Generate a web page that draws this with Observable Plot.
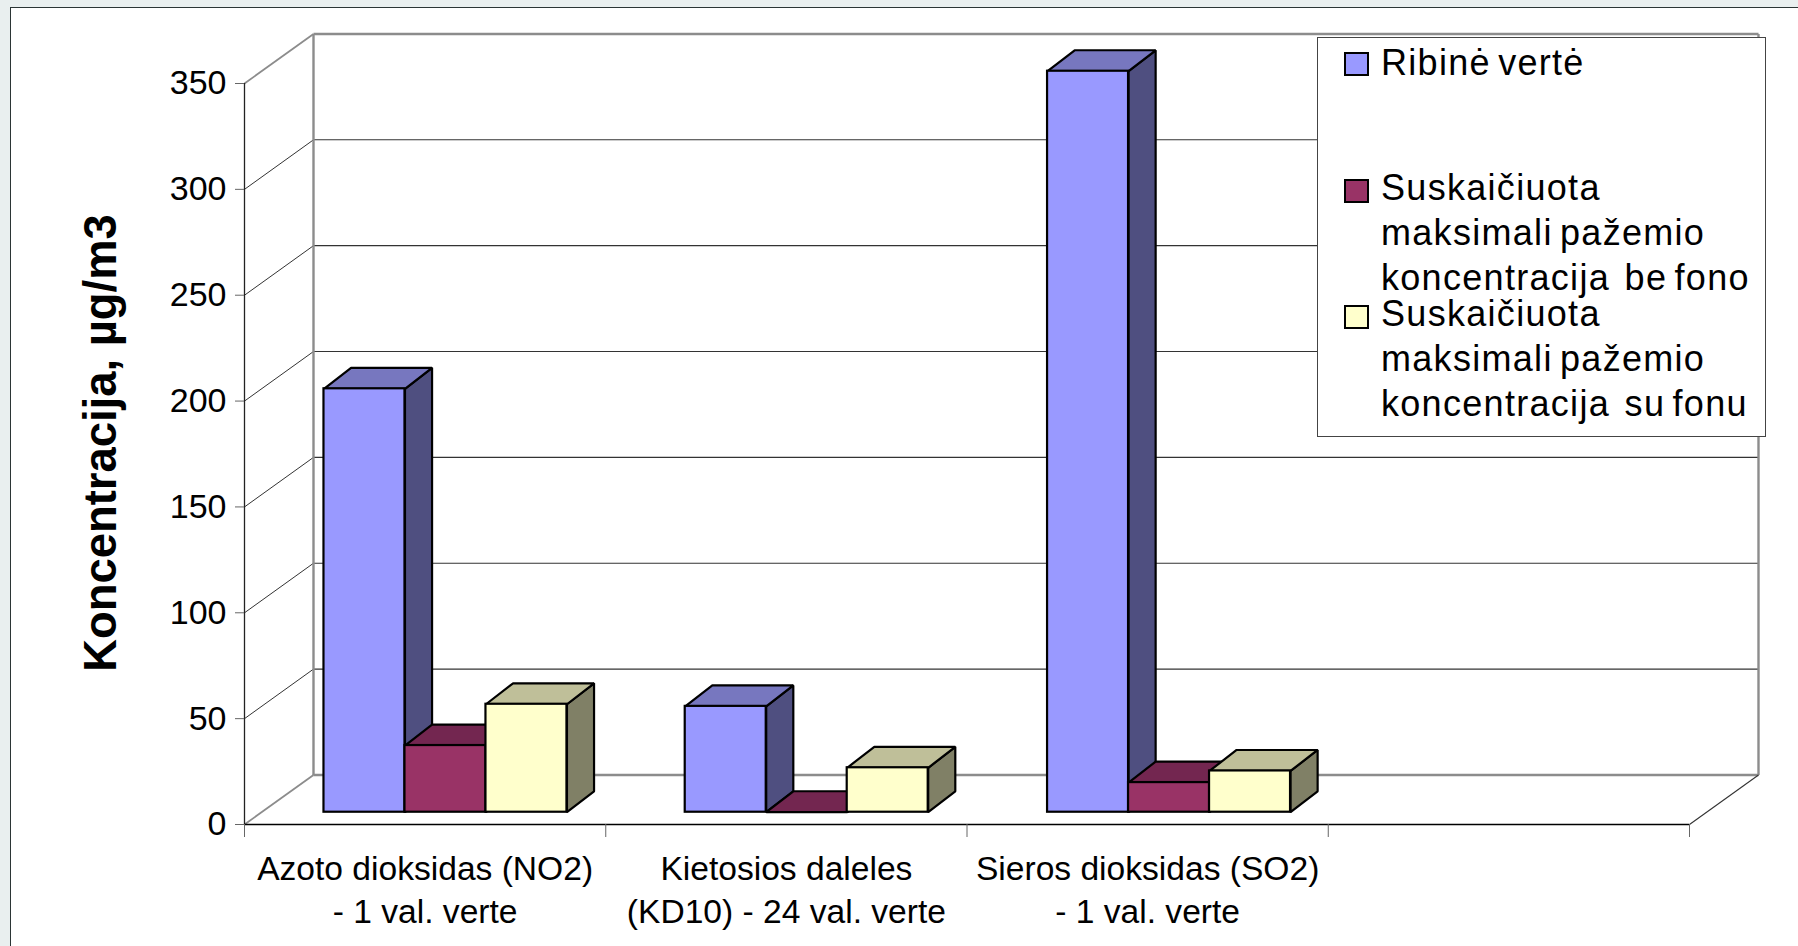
<!DOCTYPE html>
<html><head><meta charset="utf-8">
<script src="https://cdn.jsdelivr.net/npm/d3@7"></script>
<script src="https://cdn.jsdelivr.net/npm/@observablehq/plot@0.6"></script>
<style>
html,body{margin:0;padding:0;width:1798px;height:946px;overflow:hidden;background:#e9efef;font-family:"Liberation Sans",Arial,sans-serif}
#panel{position:absolute;left:9.5px;top:6.5px;width:1800px;height:950px;background:#fff;border:1.5px solid #2b3535}
#chart{position:absolute;left:0;top:0}
#legend{position:absolute;left:1317px;top:37px;width:447px;height:398px;background:#fff;border:1.3px solid #444;font-size:36px;letter-spacing:1.3px;word-spacing:-4px;color:#000}
#legend .t{position:absolute;left:63px;white-space:pre;line-height:40px}
#legend .s{position:absolute;left:26px;width:21px;height:20px;border:2px solid #000}
</style></head><body>
<div id="panel"></div><div id="chart"></div><div id="legend"></div>
<script>
const categories = ["Azoto dioksidas (NO2)\n- 1 val. verte", "Kietosios daleles\n(KD10) - 24 val. verte", "Sieros dioksidas (SO2)\n- 1 val. verte"];
const ribineVerte = [200, 50, 350];
const beFono = [31.5, 0, 14];
const suFono = [51, 21, 19.5];
const yTicks = [0, 50, 100, 150, 200, 250, 300, 350];
const xTicks = [0, 1, 2, 3, 4];
const seriesNames = ["Ribinė vertė", "Suskaičiuota\nmaksimali pažemio\nkoncentracija  be fono", "Suskaičiuota\nmaksimali pažemio\nkoncentracija  su fonu"];
const frontColors = ["#9999ff", "#993366", "#ffffcc"];
const topColors = ["#7777bf", "#732650", "#bfbf99"];
const sideColors = ["#4f4f80", "#4d1a33", "#808066"];

// oblique projection, in scale units
const wallDx = 0.191, wallDy = 23.4;      // depth of the floor
const barDx = 0.075, barDy = 9.9;         // depth of one bar
const barW = 0.2242;                      // width of one bar
const barStarts = [0.22, 0.22, 0.223];    // first bar inside each category
const barBase = 5.8;                      // the bars stand inside the floor

const values = [ribineVerte, beFono, suFono];
const barMarks = values.flatMap((vals, s) => {
  const rows = vals.map((v, i) => {
    const x1 = i + barStarts[i] + s * barW, x2 = x1 + barW;
    return {i, x1, x2, y1: barBase, y2: barBase + v};
  });
  const side = rows.flatMap(r => [
    {id: r.i, x: r.x2, y: r.y1}, {id: r.i, x: r.x2 + barDx, y: r.y1 + barDy},
    {id: r.i, x: r.x2 + barDx, y: r.y2 + barDy}, {id: r.i, x: r.x2, y: r.y2}]);
  const top = rows.flatMap(r => [
    {id: r.i, x: r.x1, y: r.y2}, {id: r.i, x: r.x2, y: r.y2},
    {id: r.i, x: r.x2 + barDx, y: r.y2 + barDy}, {id: r.i, x: r.x1 + barDx, y: r.y2 + barDy}]);
  const poly = {x: "x", y: "y", z: "id", curve: "linear-closed", stroke: "#000", strokeWidth: 2.2, strokeLinejoin: "miter"};
  return [
    Plot.line(side, {...poly, fill: sideColors[s]}),
    Plot.line(top, {...poly, fill: topColors[s]}),
    Plot.rect(rows, {x1: "x1", x2: "x2", y1: "y1", y2: "y2", fill: frontColors[s], stroke: "#000", strokeWidth: 2.2})
  ];
});

const gridY = yTicks.slice(1, -1);
const plot = Plot.plot({
  width: 1798, height: 946,
  marginLeft: 244, marginRight: 109, marginTop: 83, marginBottom: 122,
  x: {domain: [0, 4]}, y: {domain: [0, 350]},
  style: {background: "transparent", fontFamily: "'Liberation Sans',Arial,sans-serif", color: "#000"},
  marks: [
    // back wall grid and its diagonals
    Plot.link(gridY, {x1: wallDx, x2: 4 + wallDx, y1: v => v + wallDy, y2: v => v + wallDy, stroke: "#333", strokeWidth: 1.1}),
    Plot.link(gridY, {x1: 0, x2: wallDx, y1: v => v, y2: v => v + wallDy, stroke: "#333", strokeWidth: 1}),
    // wall frame
    Plot.link([0, 350], {x1: wallDx, x2: 4 + wallDx, y1: v => v + wallDy, y2: v => v + wallDy, stroke: "#8c8c8c", strokeWidth: 2.4}),
    Plot.link([wallDx, 4 + wallDx], {x1: v => v, x2: v => v, y1: wallDy, y2: 350 + wallDy, stroke: "#8c8c8c", strokeWidth: 2.4}),
    Plot.link([0, 350], {x1: 0, x2: wallDx, y1: v => v, y2: v => v + wallDy, stroke: "#8c8c8c", strokeWidth: 1.8}),
    Plot.link([4], {x1: v => v, x2: v => v + wallDx, y1: 0, y2: wallDy, stroke: "#333", strokeWidth: 1.1}),
    // front axes
    Plot.ruleX([0], {y1: 0, y2: 350, stroke: "#222", strokeWidth: 1.3}),
    Plot.ruleY([0], {x1: 0, x2: 4, stroke: "#000", strokeWidth: 1.5}),
    ...barMarks,
    Plot.axisY({ticks: yTicks, tickSize: 9, tickPadding: 9, fontSize: 34, stroke: "#666", label: null}),
    Plot.axisX({ticks: xTicks, tickSize: 13, tickFormat: () => "", stroke: "#666", label: null}),
    Plot.axisX({ticks: [0.5, 1.5, 2.5], tickSize: 0, tickPadding: 25.5, fontSize: 33.6, lineHeight: 1.27, textOverflow: null, tickFormat: v => categories[v - 0.5], label: null}),
    Plot.text(["Koncentracija, µg/m3"], {frameAnchor: "left", dx: -143, dy: -11, rotate: -90, fontSize: 45.4, fontWeight: "bold", textAnchor: "middle", fill: "#000"})
  ]
});
document.getElementById("chart").appendChild(plot);

// legend, over the top right corner of the plot
const legend = document.getElementById("legend");
const swatchTops = [14, 141, 267];
const baselines = [36.5, 161.5, 287.5];
seriesNames.forEach((name, s) => {
  const sw = document.createElement("div");
  sw.className = "s"; sw.style.top = swatchTops[s] + "px"; sw.style.background = frontColors[s];
  legend.appendChild(sw);
  name.split("\n").forEach((line, k) => {
    const t = document.createElement("div");
    t.className = "t"; t.textContent = line;
    t.style.top = (baselines[s] + k * 45.2 - 32) + "px";
    legend.appendChild(t);
  });
});
</script>
</body></html>
